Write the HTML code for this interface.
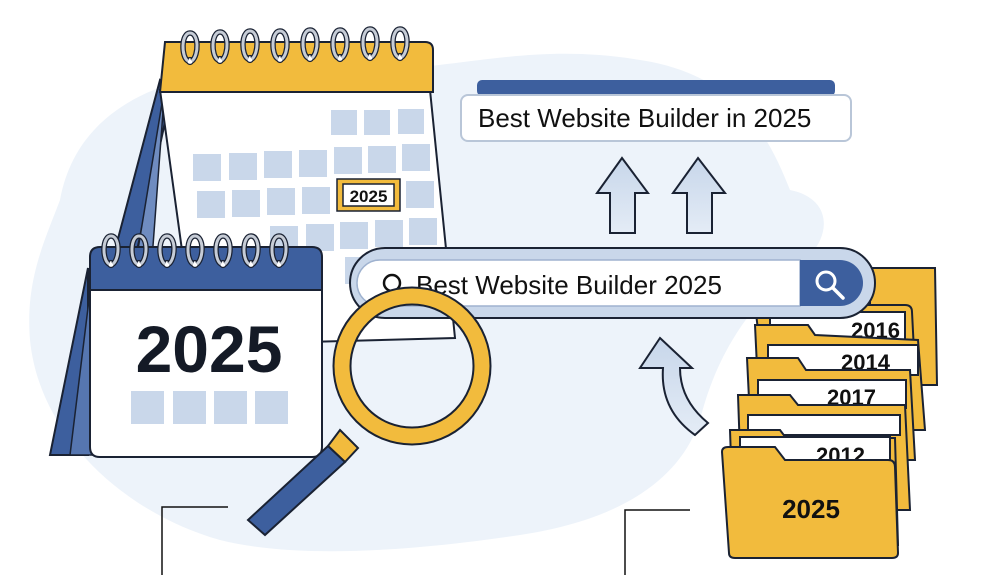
<!DOCTYPE html>
<html><head><meta charset="utf-8"><style>
html,body{margin:0;padding:0;background:#fff;}
svg{display:block;font-family:"Liberation Sans",sans-serif;}
</style></head><body>
<svg width="1006" height="575" viewBox="0 0 1006 575" xmlns="http://www.w3.org/2000/svg">
<defs>
<linearGradient id="ag" x1="0" y1="0" x2="0" y2="1"><stop offset="0" stop-color="#c7d6ea"/><stop offset="1" stop-color="#e4ecf6"/></linearGradient>
<g id="ring"><circle cx="0" cy="14" r="3.5" fill="#fff" stroke="#1a2233" stroke-width="1.2"/><path d="M-2,14 C-9,10 -9,-14 0,-14 C9,-14 9,8 2,14" fill="none" stroke="#1a2233" stroke-width="5.5"/><path d="M-2,14 C-9,10 -9,-14 0,-14 C9,-14 9,8 2,14" fill="none" stroke="#c6ccd6" stroke-width="3"/></g>
</defs>
<path d="M60,200 C80,90 200,60 330,70 C450,75 520,40 640,60 C740,75 770,140 790,190 C840,200 830,250 790,270 C760,300 720,340 700,420 C680,480 620,520 520,535 C420,550 300,560 220,540 C130,515 40,440 30,340 C25,280 45,240 60,200 Z" fill="#edf3fa"/>
<polygon points="160,80 70,420 100,420 172,90" fill="#3d5f9e" stroke="#1a2233" stroke-width="2"/>
<polygon points="165,85 110,420 140,420" fill="#6f8cc0" stroke="#1a2233" stroke-width="1.5"/>
<path d="M160,90 L430,90 L455,338 L195,345 Z" fill="#fff" stroke="#1a2233" stroke-width="2"/>
<path d="M165,42 L425,42 Q433,42 433,50 L433,92 L160,92 Z" fill="#f2bb3d" stroke="#1a2233" stroke-width="2"/>
<g fill="#c9d7ea">
<rect x="331" y="110" width="26" height="25"/><rect x="364" y="110" width="26" height="25"/><rect x="398" y="109" width="26" height="25"/>
<rect x="193" y="154" width="28" height="27"/><rect x="229" y="153" width="28" height="27"/><rect x="264" y="151" width="28" height="27"/><rect x="299" y="150" width="28" height="27"/><rect x="334" y="147" width="28" height="27"/><rect x="368" y="146" width="28" height="27"/><rect x="402" y="144" width="28" height="27"/>
<rect x="197" y="191" width="28" height="27"/><rect x="232" y="190" width="28" height="27"/><rect x="267" y="188" width="28" height="27"/><rect x="302" y="187" width="28" height="27"/><rect x="406" y="181" width="28" height="27"/>
<rect x="270" y="226" width="28" height="27"/><rect x="306" y="224" width="28" height="27"/><rect x="340" y="222" width="28" height="27"/><rect x="375" y="220" width="28" height="27"/><rect x="409" y="218" width="28" height="27"/>
<rect x="345" y="257" width="28" height="27"/>
</g>
<rect x="337" y="179" width="63" height="32" fill="#f2bb3d" stroke="#1a2233" stroke-width="1.5"/>
<rect x="343" y="184" width="51" height="22" fill="#fff" stroke="#1a2233" stroke-width="1.5"/>
<text x="368.5" y="202" font-size="17" font-weight="bold" text-anchor="middle" fill="#111">2025</text>
<use href="#ring" x="190" y="47"/><use href="#ring" x="220" y="46"/><use href="#ring" x="250" y="45"/><use href="#ring" x="280" y="45"/><use href="#ring" x="310" y="44"/><use href="#ring" x="340" y="44"/><use href="#ring" x="370" y="43"/><use href="#ring" x="400" y="43"/>
<rect x="477" y="80" width="358" height="16" rx="5" fill="#3d5f9e"/>
<rect x="461" y="95" width="390" height="46" rx="7" fill="#fff" stroke="#b9c6d8" stroke-width="2"/>
<text x="478" y="127" font-size="26" fill="#111">Best Website Builder in 2025</text>
<polygon points="622,158 648,193 635,193 635,233 610,233 610,193 597,193" fill="url(#ag)" stroke="#1a2233" stroke-width="2"/>
<polygon points="698,158 725,193 712,193 712,233 687,233 687,193 673,193" fill="url(#ag)" stroke="#1a2233" stroke-width="2"/>
<g stroke="#1a2233" stroke-width="2">
<path d="M870,268 L935,268 L937,385 L870,385 Z" fill="#f2bb3d"/>
<path d="M755,305 L905,305 Q912,305 912,312 L918,430 L770,430 Z" fill="#f2bb3d"/>
<rect x="770" y="312" width="135" height="30" fill="#fff"/>
<text x="900" y="338" font-size="22" font-weight="bold" text-anchor="end" stroke="none" fill="#111">2016</text>
<path d="M755,325 L808,325 L815,335 L918,340 L925,430 L760,430 Z" fill="#f2bb3d"/>
<rect x="768" y="345" width="150" height="30" fill="#fff"/>
<text x="890" y="370" font-size="22" font-weight="bold" text-anchor="end" stroke="none" fill="#111">2014</text>
<path d="M747,358 L798,358 L806,370 L910,370 L915,460 L752,460 Z" fill="#f2bb3d"/>
<rect x="758" y="380" width="148" height="28" fill="#fff"/>
<text x="876" y="405" font-size="22" font-weight="bold" text-anchor="end" stroke="none" fill="#111">2017</text>
<path d="M738,395 L790,395 L798,405 L905,405 L910,510 L742,510 Z" fill="#f2bb3d"/>
<rect x="748" y="415" width="152" height="20" fill="#fff"/>
<path d="M730,430 L780,430 L786,438 L895,438 L898,545 L734,545 Z" fill="#f2bb3d"/>
<rect x="740" y="437" width="150" height="30" fill="#fff"/>
<text x="865" y="463" font-size="22" font-weight="bold" text-anchor="end" stroke="none" fill="#111">2012</text>
<path d="M722,452 Q722,447 728,447 L775,447 L785,460 L888,460 Q895,460 895,467 L898,553 Q898,558 892,558 L735,558 Q729,558 729,553 Z" fill="#f2bb3d"/>
</g>
<text x="811" y="518" font-size="26" font-weight="bold" text-anchor="middle" fill="#111">2025</text>
<path d="M660,338 L692,368 L680,368 Q680,400 708,423 L695,435 Q660,410 663,368 L640,368 Z" fill="url(#ag)" stroke="#1a2233" stroke-width="2"/>
<rect x="350" y="248" width="525" height="70" rx="35" fill="#c9d7ea" stroke="#1a2233" stroke-width="2"/>
<path d="M380,260 L800,260 L800,306 L380,306 A23,23 0 0 1 380,260 Z" fill="#fff" stroke="#9fb2cf" stroke-width="1.5"/>
<path d="M800,260 L840,260 A23,23 0 0 1 840,306 L800,306 Z" fill="#3d5f9e"/>
<circle cx="826" cy="281" r="9" fill="none" stroke="#fff" stroke-width="3"/>
<line x1="833" y1="288" x2="843" y2="298" stroke="#fff" stroke-width="3.5" stroke-linecap="round"/>
<circle cx="392" cy="283" r="8" fill="none" stroke="#111" stroke-width="2.5"/>
<line x1="398" y1="289" x2="404" y2="296" stroke="#111" stroke-width="2.5"/>
<text x="416" y="294" font-size="26" fill="#111">Best Website Builder 2025</text>
<polygon points="88,268 50,455 88,455" fill="#3d5f9e" stroke="#1a2233" stroke-width="2"/>
<polygon points="92,275 70,455 95,455" fill="#5676b0" stroke="#1a2233" stroke-width="1.5"/>
<path d="M100,247 L312,247 Q322,247 322,257 L322,290 L90,290 L90,257 Q90,247 100,247 Z" fill="#3d5f9e" stroke="#1a2233" stroke-width="2"/>
<path d="M90,290 L322,290 L322,447 Q322,457 312,457 L100,457 Q90,457 90,447 Z" fill="#fff" stroke="#1a2233" stroke-width="2"/>
<text x="209" y="372" font-size="66" font-weight="bold" text-anchor="middle" fill="#141a26">2025</text>
<g fill="#c9d7ea"><rect x="131" y="391" width="33" height="33"/><rect x="173" y="391" width="33" height="33"/><rect x="214" y="391" width="33" height="33"/><rect x="255" y="391" width="33" height="33"/></g>
<use href="#ring" x="111" y="250"/><use href="#ring" x="139" y="250"/><use href="#ring" x="167" y="250"/><use href="#ring" x="195" y="250"/><use href="#ring" x="223" y="250"/><use href="#ring" x="251" y="250"/><use href="#ring" x="279" y="250"/>
<polygon points="340,430 358,448 345,462 328,446" fill="#f2bb3d" stroke="#1a2233" stroke-width="2"/>
<polygon points="328,446 345,462 265,535 248,520" fill="#3d5f9e" stroke="#1a2233" stroke-width="2"/>
<circle cx="412" cy="366" r="70" fill="none" stroke="#1a2233" stroke-width="19"/>
<circle cx="412" cy="366" r="70" fill="none" stroke="#f2bb3d" stroke-width="15"/>
<path d="M228,507 L162,507 L162,575" fill="none" stroke="#111" stroke-width="1.5"/>
<path d="M690,510 L625,510 L625,575" fill="none" stroke="#111" stroke-width="1.5"/>
</svg>
</body></html>
